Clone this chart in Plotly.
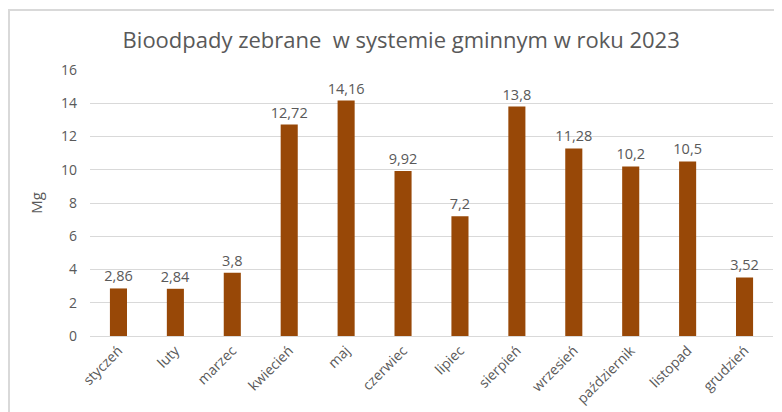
import plotly.graph_objects as go

months = ["styczeń", "luty", "marzec", "kwiecień", "maj", "czerwiec", "lipiec",
          "sierpień", "wrzesień", "październik", "listopad", "grudzień"]
values = [2.86, 2.84, 3.8, 12.72, 14.16, 9.92, 7.2, 13.8, 11.28, 10.2, 10.5, 3.52]
labels = [f"{v:g}".replace(".", ",") for v in values]

title_text = "Bioodpady zebrane  w systemie gminnym w roku 2023"
y_title = "Mg"
y_ticks = [0, 2, 4, 6, 8, 10, 12, 14, 16]

font_fam = "Open Sans, Lato, sans-serif"
gray = "#595959"

# page has an 8px body margin, so the figure is drawn 8px smaller and offset
W, H = 774, 404
L, R, T, B = 82, 9, 62, 76
pw, ph = W - L - R, H - T - B

fig = go.Figure(go.Bar(
    x=months, y=values, text=labels, textposition="outside",
    textfont=dict(size=14.5, color=gray, family=font_fam),
    constraintext="none",
    marker=dict(color="#984807", line=dict(width=0)),
    width=0.3, cliponaxis=False,
))

fig.update_layout(
    width=W, height=H,
    margin=dict(l=L, r=R, t=T, b=B, autoexpand=False),
    paper_bgcolor="white", plot_bgcolor="white",
    title=dict(text=title_text, x=0.508, xanchor="center", y=1 - 32 / H, yanchor="middle",
               font=dict(size=22, color=gray, family=font_fam)),
    showlegend=False,
    xaxis=dict(tickangle=-45, tickfont=dict(size=14, color=gray, family=font_fam), automargin=False,
               showline=True, linecolor="#D9D9D9", linewidth=1, ticks="", showgrid=False),
    yaxis=dict(range=[0, 16], tickvals=y_ticks, tickfont=dict(size=14, color=gray, family=font_fam),
               automargin=False, ticklabelstandoff=12,
               showgrid=True, gridcolor="#D9D9D9", gridwidth=1, zeroline=False, ticks="",
               title=dict(text=y_title, font=dict(size=15, color=gray, family=font_fam), standoff=14)),
    shapes=[dict(type="rect", xref="paper", yref="paper",
                 x0=(1 - L) / pw, x1=(W + 20 - L) / pw,
                 y0=-(B + 20) / ph, y1=(ph + T - 2) / ph,
                 line=dict(color="#D9D9D9", width=2), fillcolor="rgba(0,0,0,0)", layer="above")],
)

fig.write_html("out.html")
